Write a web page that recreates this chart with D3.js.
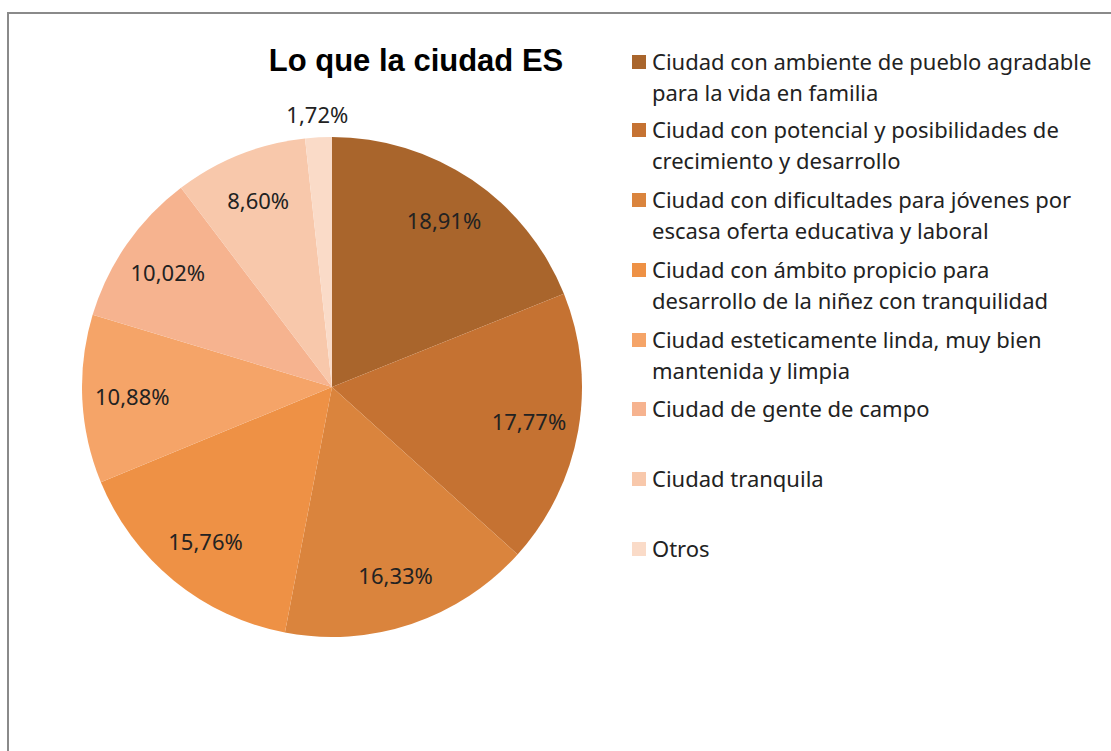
<!DOCTYPE html>
<html>
<head>
<meta charset="utf-8">
<script src="https://cdn.jsdelivr.net/npm/d3@7"></script>
<style>
  body { margin: 0; background: #fff; }
  svg { display: block; }
</style>
</head>
<body>
<div id="chart"></div>
<script>
// Data
const categories = [
  ["Ciudad con ambiente de pueblo agradable", "para la vida en familia"],
  ["Ciudad con potencial y posibilidades de", "crecimiento y desarrollo"],
  ["Ciudad con dificultades para jóvenes por", "escasa oferta educativa y laboral"],
  ["Ciudad con ámbito propicio para", "desarrollo de la niñez con tranquilidad"],
  ["Ciudad esteticamente linda, muy bien", "mantenida y limpia"],
  ["Ciudad de gente de campo"],
  ["Ciudad tranquila"],
  ["Otros"]
];
const values = [18.91, 17.77, 16.33, 15.76, 10.88, 10.02, 8.60, 1.72];
const labels = ["18,91%", "17,77%", "16,33%", "15,76%", "10,88%", "10,02%", "8,60%", "1,72%"];
const colors = ["#a9652c", "#c57232", "#da843d", "#ee9145", "#f5a468", "#f6b38f", "#f8c8ab", "#fadbc8"];

const W = 1111, H = 751;
const cx = 332, cy = 387, R = 250;
const textFont = "'Noto Sans', 'DejaVu Sans', sans-serif";

const svg = d3.select("#chart").append("svg")
  .attr("width", W)
  .attr("height", H);

// frame (top + left edges visible)
svg.append("path")
  .attr("d", "M8,751 L8,13 L1111,13")
  .attr("fill", "none")
  .attr("stroke", "#8a8a8a")
  .attr("stroke-width", 2);

// title
svg.append("text")
  .attr("x", 416)
  .attr("y", 71)
  .attr("text-anchor", "middle")
  .attr("font-family", "'Liberation Sans', Arial, sans-serif")
  .attr("font-weight", "bold")
  .attr("font-size", 31)
  .attr("fill", "#000")
  .text("Lo que la ciudad ES");

// pie
const pie = d3.pie().sort(null).value(d => d);
const arcs = pie(values);
const arc = d3.arc().innerRadius(0).outerRadius(R);
const labelArc = d3.arc().innerRadius(R * 0.8).outerRadius(R * 0.8);
const outerArc = d3.arc().innerRadius(R * 1.09).outerRadius(R * 1.09);

const g = svg.append("g").attr("transform", `translate(${cx},${cy})`);

g.selectAll("path.slice")
  .data(arcs)
  .enter().append("path")
  .attr("class", "slice")
  .attr("d", arc)
  .attr("fill", (d, i) => colors[i]);

g.selectAll("text.lbl")
  .data(arcs)
  .enter().append("text")
  .attr("class", "lbl")
  .attr("transform", (d, i) => {
    const p = (i === arcs.length - 1 ? outerArc : labelArc).centroid(d);
    return `translate(${p[0]},${p[1]})`;
  })
  .attr("text-anchor", "middle")
  .attr("dy", "0.35em")
  .attr("font-family", textFont)
  .attr("font-size", 22)
  .attr("fill", "#222")
  .text((d, i) => labels[i]);

// legend
const legend = svg.append("g");
const legY = [62, 130, 200, 270, 340, 409, 479, 549];

categories.forEach((lines, i) => {
  const y = legY[i];
  legend.append("rect")
    .attr("x", 632)
    .attr("y", y - 7)
    .attr("width", 14)
    .attr("height", 14)
    .attr("fill", colors[i]);
  lines.forEach((line, j) => {
    legend.append("text")
      .attr("x", 652)
      .attr("y", y + j * 31)
      .attr("dy", "0.35em")
      .attr("font-family", textFont)
      .attr("font-size", 22)
      .attr("fill", "#222")
      .text(line);
  });
});
</script>
</body>
</html>
